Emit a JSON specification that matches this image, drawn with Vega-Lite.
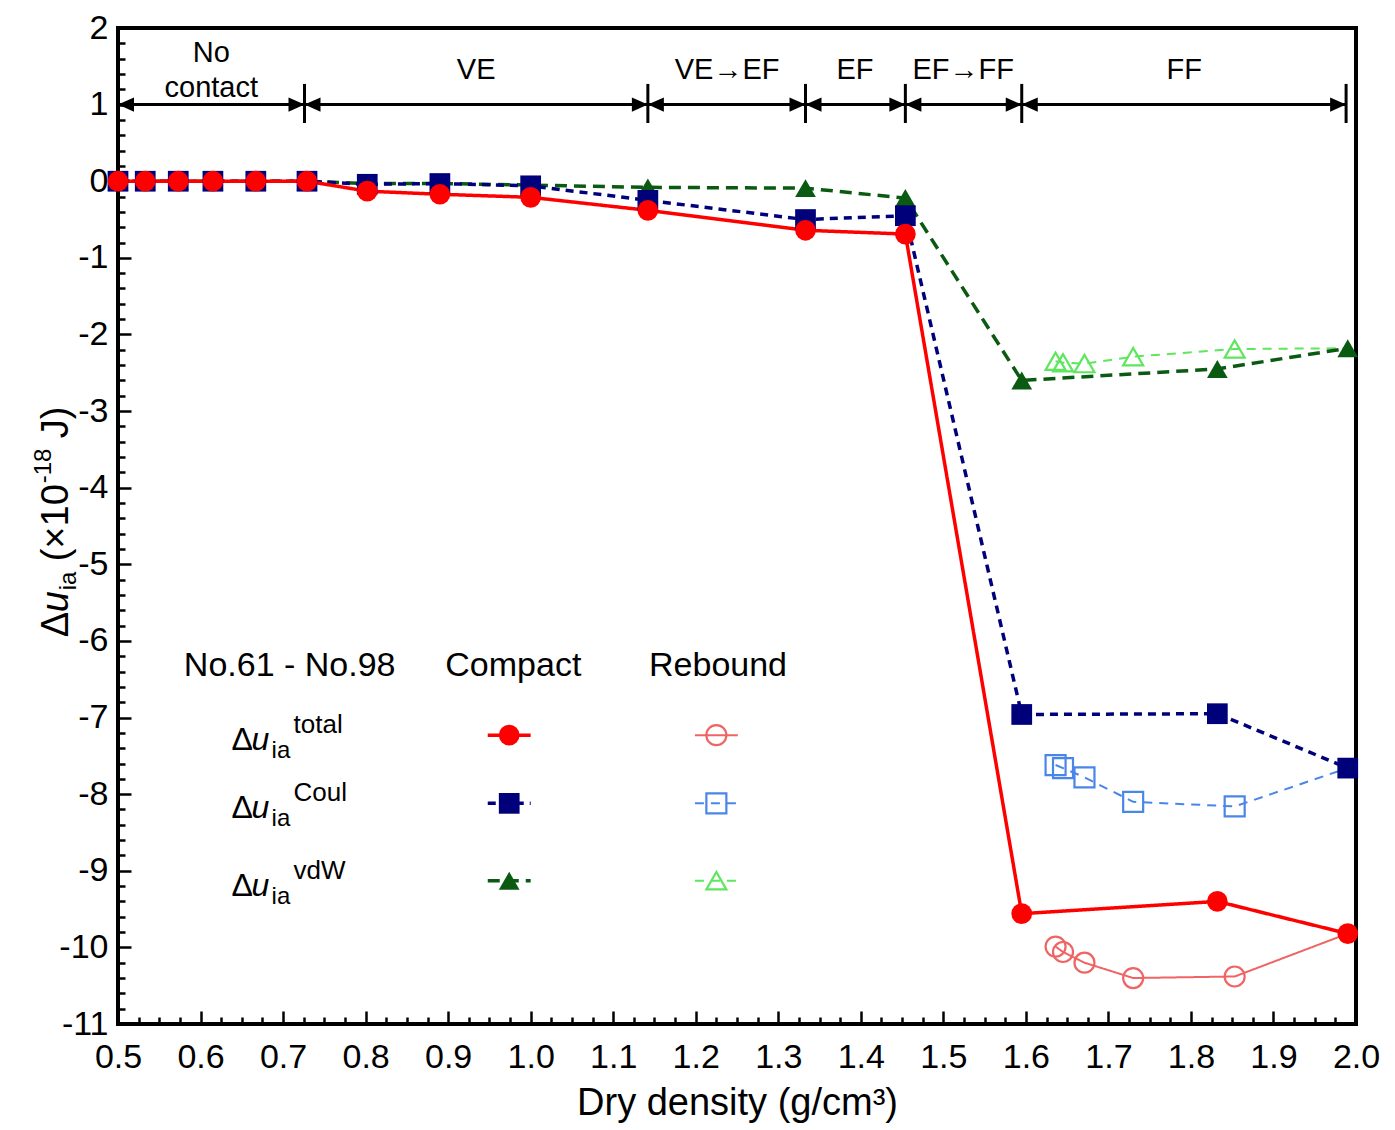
{
  "$schema": "https://vega.github.io/schema/vega-lite/v6.json",
  "width": 1238,
  "height": 996,
  "autosize": {"type": "none"},
  "padding": {"left": 118, "top": 28, "right": 39, "bottom": 106},
  "background": "white",
  "config": {
    "view": {"stroke": "black", "strokeWidth": 4},
    "font": "Liberation Sans",
    "text": {"font": "Liberation Sans", "color": "black"}
  },
  "datasets": {
    "pts": [
      {"s": "Cv", "x": 0.5, "y": 0}, {"s": "Cv", "x": 0.533, "y": 0}, {"s": "Cv", "x": 0.573, "y": 0}, {"s": "Cv", "x": 0.615, "y": 0}, {"s": "Cv", "x": 0.667, "y": 0}, {"s": "Cv", "x": 0.729, "y": 0},
      {"s": "Cv", "x": 0.802, "y": -0.03}, {"s": "Cv", "x": 0.89, "y": -0.03}, {"s": "Cv", "x": 1.0, "y": -0.05}, {"s": "Cv", "x": 1.142, "y": -0.08}, {"s": "Cv", "x": 1.333, "y": -0.09}, {"s": "Cv", "x": 1.454, "y": -0.22},
      {"s": "Cv", "x": 1.595, "y": -2.6}, {"s": "Cv", "x": 1.832, "y": -2.45}, {"s": "Cv", "x": 1.99, "y": -2.18},
      {"s": "Cc", "x": 0.5, "y": 0}, {"s": "Cc", "x": 0.533, "y": 0}, {"s": "Cc", "x": 0.573, "y": 0}, {"s": "Cc", "x": 0.615, "y": 0}, {"s": "Cc", "x": 0.667, "y": 0}, {"s": "Cc", "x": 0.729, "y": 0},
      {"s": "Cc", "x": 0.802, "y": -0.04}, {"s": "Cc", "x": 0.89, "y": -0.03}, {"s": "Cc", "x": 1.0, "y": -0.06}, {"s": "Cc", "x": 1.142, "y": -0.25}, {"s": "Cc", "x": 1.333, "y": -0.5}, {"s": "Cc", "x": 1.454, "y": -0.45},
      {"s": "Cc", "x": 1.595, "y": -6.96}, {"s": "Cc", "x": 1.832, "y": -6.95}, {"s": "Cc", "x": 1.99, "y": -7.66},
      {"s": "Ct", "x": 0.5, "y": 0}, {"s": "Ct", "x": 0.533, "y": 0}, {"s": "Ct", "x": 0.573, "y": 0}, {"s": "Ct", "x": 0.615, "y": 0}, {"s": "Ct", "x": 0.667, "y": 0}, {"s": "Ct", "x": 0.729, "y": 0},
      {"s": "Ct", "x": 0.802, "y": -0.13}, {"s": "Ct", "x": 0.89, "y": -0.17}, {"s": "Ct", "x": 1.0, "y": -0.21}, {"s": "Ct", "x": 1.142, "y": -0.38}, {"s": "Ct", "x": 1.333, "y": -0.64}, {"s": "Ct", "x": 1.454, "y": -0.69},
      {"s": "Ct", "x": 1.595, "y": -9.56}, {"s": "Ct", "x": 1.832, "y": -9.4}, {"s": "Ct", "x": 1.99, "y": -9.82},
      {"s": "Rv", "x": 1.636, "y": -2.35}, {"s": "Rv", "x": 1.645, "y": -2.37}, {"s": "Rv", "x": 1.671, "y": -2.38}, {"s": "Rv", "x": 1.73, "y": -2.29}, {"s": "Rv", "x": 1.853, "y": -2.19}, {"s": "Rv", "x": 1.99, "y": -2.18},
      {"s": "Rc", "x": 1.636, "y": -7.62}, {"s": "Rc", "x": 1.645, "y": -7.66}, {"s": "Rc", "x": 1.671, "y": -7.78}, {"s": "Rc", "x": 1.73, "y": -8.1}, {"s": "Rc", "x": 1.853, "y": -8.16}, {"s": "Rc", "x": 1.99, "y": -7.66},
      {"s": "Rt", "x": 1.636, "y": -9.99}, {"s": "Rt", "x": 1.645, "y": -10.06}, {"s": "Rt", "x": 1.671, "y": -10.2}, {"s": "Rt", "x": 1.73, "y": -10.4}, {"s": "Rt", "x": 1.853, "y": -10.38}, {"s": "Rt", "x": 1.99, "y": -9.82}
    ],
    "phase": [
      {"x": 0.5, "x2": 0.726, "y": 1},
      {"x": 0.726, "x2": 1.142, "y": 1},
      {"x": 1.142, "x2": 1.333, "y": 1},
      {"x": 1.333, "x2": 1.454, "y": 1},
      {"x": 1.454, "x2": 1.595, "y": 1},
      {"x": 1.595, "x2": 1.988, "y": 1}
    ],
    "phaseLabels": [
      {"x": 0.613, "y": 1.67, "t": ["No", "contact"]},
      {"x": 0.934, "y": 1.45, "t": "VE"},
      {"x": 1.238, "y": 1.45, "t": "VE→EF"},
      {"x": 1.393, "y": 1.45, "t": "EF"},
      {"x": 1.524, "y": 1.45, "t": "EF→FF"},
      {"x": 1.792, "y": 1.45, "t": "FF"}
    ],
    "legendHead": [
      {"x": 0.708, "y": -6.33, "t": "No.61 - No.98"},
      {"x": 0.979, "y": -6.33, "t": "Compact"},
      {"x": 1.227, "y": -6.33, "t": "Rebound"}
    ],
    "legendSamples": [
      {"s": "Ct", "x": 0.974, "xa": 0.948, "xb": 1.0, "y": -7.23},
      {"s": "Cc", "x": 0.974, "xa": 0.948, "xb": 1.0, "y": -8.12},
      {"s": "Cv", "x": 0.974, "xa": 0.948, "xb": 1.0, "y": -9.13},
      {"s": "Rt", "x": 1.225, "xa": 1.199, "xb": 1.251, "y": -7.23},
      {"s": "Rc", "x": 1.225, "xa": 1.199, "xb": 1.251, "y": -8.12},
      {"s": "Rv", "x": 1.225, "xa": 1.199, "xb": 1.251, "y": -9.13}
    ],
    "legendRows": [
      {"lab": "total", "x": 0.6376, "y": -7.23},
      {"lab": "Coul", "x": 0.6376, "y": -8.12},
      {"lab": "vdW", "x": 0.6376, "y": -9.13}
    ],
    "ytitle": [{"x": 0.4394, "y": -5.953}]
  },
  "encoding": {
    "x": {
      "field": "x", "type": "quantitative",
      "scale": {"domain": [0.5, 2.0], "nice": false, "zero": false},
      "axis": {
        "title": "Dry density (g/cm³)",
        "values": [0.5, 0.525, 0.55, 0.575, 0.6, 0.625, 0.65, 0.675, 0.7, 0.725, 0.75, 0.775, 0.8, 0.825, 0.85, 0.875, 0.9, 0.925, 0.95, 0.975, 1.0, 1.025, 1.05, 1.075, 1.1, 1.125, 1.15, 1.175, 1.2, 1.225, 1.25, 1.275, 1.3, 1.325, 1.35, 1.375, 1.4, 1.425, 1.45, 1.475, 1.5, 1.525, 1.55, 1.575, 1.6, 1.625, 1.65, 1.675, 1.7, 1.725, 1.75, 1.775, 1.8, 1.825, 1.85, 1.875, 1.9, 1.925, 1.95, 1.975, 2.0],
        "labelExpr": "abs(datum.value*10 - round(datum.value*10)) < 0.01 ? format(datum.value, '.1f') : ''",
        "tickSize": {"condition": {"test": "abs(datum.value*10 - round(datum.value*10)) < 0.01", "value": -13}, "value": -7},
        "tickWidth": 2.5, "tickColor": "black",
        "domain": false, "grid": false,
        "labelFont": "Liberation Sans", "labelFontSize": 34, "labelColor": "black",
        "labelPadding": 29, "labelFlush": false, "labelOverlap": false, "labelBound": false,
        "titleFont": "Liberation Sans", "titleFontSize": 38, "titleFontWeight": "normal", "titleColor": "black", "titlePadding": 4
      }
    },
    "y": {
      "field": "y", "type": "quantitative",
      "scale": {"domain": [-11, 2], "nice": false, "zero": false},
      "axis": {
        "title": null,
        "values": [-11, -10.8, -10.6, -10.4, -10.2, -10, -9.8, -9.6, -9.4, -9.2, -9, -8.8, -8.6, -8.4, -8.2, -8, -7.8, -7.6, -7.4, -7.2, -7, -6.8, -6.6, -6.4, -6.2, -6, -5.8, -5.6, -5.4, -5.2, -5, -4.8, -4.6, -4.4, -4.2, -4, -3.8, -3.6, -3.4, -3.2, -3, -2.8, -2.6, -2.4, -2.2, -2, -1.8, -1.6, -1.4, -1.2, -1, -0.8, -0.6, -0.4, -0.2, 0, 0.2, 0.4, 0.6, 0.8, 1, 1.2, 1.4, 1.6, 1.8, 2],
        "labelExpr": "abs(datum.value - round(datum.value)) < 0.01 ? '' + round(datum.value) : ''",
        "tickSize": {"condition": {"test": "abs(datum.value - round(datum.value)) < 0.01", "value": -13}, "value": -7},
        "tickWidth": 2.5, "tickColor": "black",
        "domain": false, "grid": false,
        "labelFont": "Liberation Sans", "labelFontSize": 34, "labelColor": "black",
        "labelPadding": 23, "labelFlush": false, "labelOverlap": false, "labelBound": false
      }
    }
  },
  "layer": [
    {
      "data": {"values": [{}]},
      "mark": {"type": "rule", "strokeDash": [3, 5], "strokeWidth": 3, "color": "black"},
      "encoding": {"x": {"datum": 0.5}, "x2": {"datum": 2.0}, "y": {"datum": 0}}
    },
    {
      "data": {"name": "pts"},
      "transform": [{"filter": "indexof(['Rv','Rc','Rt'], datum.s) >= 0"}],
      "mark": {"type": "line", "strokeWidth": 2},
      "encoding": {
        "color": {"field": "s", "type": "nominal", "legend": null, "scale": {"domain": ["Ct", "Cc", "Cv", "Rt", "Rc", "Rv"], "range": ["#ff0000", "#00007a", "#0b5a12", "#f06464", "#4a86e8", "#5ee65e"]}},
        "strokeDash": {"field": "s", "type": "nominal", "legend": null, "scale": {"domain": ["Ct", "Cc", "Cv", "Rt", "Rc", "Rv"], "range": [[1, 0], [8, 6], [12, 7], [1, 0], [9, 7], [9, 7]]}}
      }
    },
    {
      "data": {"name": "pts"},
      "transform": [{"filter": "indexof(['Rv','Rc','Rt'], datum.s) >= 0 && datum.x < 1.98"}],
      "mark": {"type": "point", "filled": false, "strokeWidth": 2.2, "size": 400, "opacity": 1},
      "encoding": {
        "color": {"field": "s", "type": "nominal", "legend": null, "scale": {"domain": ["Ct", "Cc", "Cv", "Rt", "Rc", "Rv"], "range": ["#ff0000", "#00007a", "#0b5a12", "#f06464", "#4a86e8", "#5ee65e"]}},
        "shape": {"field": "s", "type": "nominal", "legend": null, "scale": {"domain": ["Ct", "Cc", "Cv", "Rt", "Rc", "Rv"], "range": ["circle", "square", "triangle-up", "circle", "square", "triangle-up"]}}
      }
    },
    {
      "data": {"name": "pts"},
      "transform": [{"filter": "indexof(['Cv','Cc','Ct'], datum.s) >= 0"}],
      "mark": {"type": "line", "strokeWidth": 3.5},
      "encoding": {
        "color": {"field": "s", "type": "nominal", "legend": null, "scale": {"domain": ["Ct", "Cc", "Cv", "Rt", "Rc", "Rv"], "range": ["#ff0000", "#00007a", "#0b5a12", "#f06464", "#4a86e8", "#5ee65e"]}},
        "strokeDash": {"field": "s", "type": "nominal", "legend": null, "scale": {"domain": ["Ct", "Cc", "Cv", "Rt", "Rc", "Rv"], "range": [[1, 0], [8, 6], [12, 7], [1, 0], [9, 7], [9, 7]]}}
      }
    },
    {
      "data": {"name": "pts"},
      "transform": [{"filter": "indexof(['Cv','Cc','Ct'], datum.s) >= 0"}],
      "mark": {"type": "point", "filled": true, "size": 430, "opacity": 1},
      "encoding": {
        "color": {"field": "s", "type": "nominal", "legend": null, "scale": {"domain": ["Ct", "Cc", "Cv", "Rt", "Rc", "Rv"], "range": ["#ff0000", "#00007a", "#0b5a12", "#f06464", "#4a86e8", "#5ee65e"]}},
        "shape": {"field": "s", "type": "nominal", "legend": null, "scale": {"domain": ["Ct", "Cc", "Cv", "Rt", "Rc", "Rv"], "range": ["circle", "square", "triangle-up", "circle", "square", "triangle-up"]}}
      }
    },
    {
      "data": {"name": "phase"},
      "mark": {"type": "rule", "strokeWidth": 3, "color": "black"},
      "encoding": {"x2": {"field": "x2"}}
    },
    {
      "data": {"name": "phase"},
      "mark": {"type": "point", "shape": "M0,0L1,-0.45L1,0.45Z", "filled": true, "size": 1024, "color": "black", "opacity": 1}
    },
    {
      "data": {"name": "phase"},
      "mark": {"type": "point", "shape": "M0,0L-1,-0.45L-1,0.45Z", "filled": true, "size": 1024, "color": "black", "opacity": 1},
      "encoding": {"x": {"field": "x2", "type": "quantitative"}}
    },
    {
      "data": {"name": "phase"},
      "mark": {"type": "rule", "strokeWidth": 3, "color": "black"},
      "encoding": {"x": {"field": "x2", "type": "quantitative"}, "y": {"datum": 0.76}, "y2": {"datum": 1.27}}
    },
    {
      "data": {"name": "phaseLabels"},
      "mark": {"type": "text", "fontSize": 29, "align": "center", "baseline": "middle", "lineHeight": 35},
      "encoding": {"text": {"field": "t"}}
    },
    {
      "data": {"name": "legendHead"},
      "mark": {"type": "text", "fontSize": 34, "align": "center", "baseline": "middle"},
      "encoding": {"text": {"field": "t"}}
    },
    {
      "data": {"name": "legendSamples"},
      "transform": [{"filter": "indexof(['Cv','Cc','Ct'], datum.s) >= 0"}],
      "mark": {"type": "rule", "strokeWidth": 3.5},
      "encoding": {
        "x": {"field": "xa", "type": "quantitative"}, "x2": {"field": "xb"},
        "color": {"field": "s", "type": "nominal", "legend": null, "scale": {"domain": ["Ct", "Cc", "Cv", "Rt", "Rc", "Rv"], "range": ["#ff0000", "#00007a", "#0b5a12", "#f06464", "#4a86e8", "#5ee65e"]}},
        "strokeDash": {"field": "s", "type": "nominal", "legend": null, "scale": {"domain": ["Ct", "Cc", "Cv", "Rt", "Rc", "Rv"], "range": [[1, 0], [8, 6], [12, 7], [1, 0], [9, 7], [9, 7]]}}
      }
    },
    {
      "data": {"name": "legendSamples"},
      "transform": [{"filter": "indexof(['Rv','Rc','Rt'], datum.s) >= 0"}],
      "mark": {"type": "rule", "strokeWidth": 2},
      "encoding": {
        "x": {"field": "xa", "type": "quantitative"}, "x2": {"field": "xb"},
        "color": {"field": "s", "type": "nominal", "legend": null, "scale": {"domain": ["Ct", "Cc", "Cv", "Rt", "Rc", "Rv"], "range": ["#ff0000", "#00007a", "#0b5a12", "#f06464", "#4a86e8", "#5ee65e"]}},
        "strokeDash": {"field": "s", "type": "nominal", "legend": null, "scale": {"domain": ["Ct", "Cc", "Cv", "Rt", "Rc", "Rv"], "range": [[1, 0], [8, 6], [12, 7], [1, 0], [9, 7], [9, 7]]}}
      }
    },
    {
      "data": {"name": "legendSamples"},
      "transform": [{"filter": "indexof(['Cv','Cc','Ct'], datum.s) >= 0"}],
      "mark": {"type": "point", "filled": true, "size": 430, "opacity": 1},
      "encoding": {
        "color": {"field": "s", "type": "nominal", "legend": null, "scale": {"domain": ["Ct", "Cc", "Cv", "Rt", "Rc", "Rv"], "range": ["#ff0000", "#00007a", "#0b5a12", "#f06464", "#4a86e8", "#5ee65e"]}},
        "shape": {"field": "s", "type": "nominal", "legend": null, "scale": {"domain": ["Ct", "Cc", "Cv", "Rt", "Rc", "Rv"], "range": ["circle", "square", "triangle-up", "circle", "square", "triangle-up"]}}
      }
    },
    {
      "data": {"name": "legendSamples"},
      "transform": [{"filter": "indexof(['Rv','Rc','Rt'], datum.s) >= 0"}],
      "mark": {"type": "point", "filled": false, "strokeWidth": 2.2, "size": 400, "opacity": 1},
      "encoding": {
        "color": {"field": "s", "type": "nominal", "legend": null, "scale": {"domain": ["Ct", "Cc", "Cv", "Rt", "Rc", "Rv"], "range": ["#ff0000", "#00007a", "#0b5a12", "#f06464", "#4a86e8", "#5ee65e"]}},
        "shape": {"field": "s", "type": "nominal", "legend": null, "scale": {"domain": ["Ct", "Cc", "Cv", "Rt", "Rc", "Rv"], "range": ["circle", "square", "triangle-up", "circle", "square", "triangle-up"]}}
      }
    },
    {
      "data": {"name": "legendRows"},
      "mark": {"type": "text", "text": "Δ", "fontSize": 32, "align": "left", "baseline": "alphabetic", "dy": 15}
    },
    {
      "data": {"name": "legendRows"},
      "mark": {"type": "text", "text": "u", "fontStyle": "italic", "fontSize": 32, "align": "left", "baseline": "alphabetic", "dx": 20, "dy": 15}
    },
    {
      "data": {"name": "legendRows"},
      "mark": {"type": "text", "text": "ia", "fontSize": 24, "align": "left", "baseline": "alphabetic", "dx": 40, "dy": 23}
    },
    {
      "data": {"name": "legendRows"},
      "mark": {"type": "text", "fontSize": 26, "align": "left", "baseline": "alphabetic", "dx": 62, "dy": -2},
      "encoding": {"text": {"field": "lab"}}
    },
    {
      "data": {"name": "ytitle"},
      "mark": {"type": "text", "text": "Δ", "fontSize": 38, "angle": 270, "align": "left", "baseline": "alphabetic", "dx": 0}
    },
    {
      "data": {"name": "ytitle"},
      "mark": {"type": "text", "text": "u", "fontStyle": "italic", "fontSize": 38, "angle": 270, "align": "left", "baseline": "alphabetic", "dx": 25}
    },
    {
      "data": {"name": "ytitle"},
      "mark": {"type": "text", "text": "ia", "fontSize": 24, "angle": 270, "align": "left", "baseline": "alphabetic", "dx": 47, "dy": 8}
    },
    {
      "data": {"name": "ytitle"},
      "mark": {"type": "text", "text": "(×10", "fontSize": 38, "angle": 270, "align": "left", "baseline": "alphabetic", "dx": 76}
    },
    {
      "data": {"name": "ytitle"},
      "mark": {"type": "text", "text": "-18", "fontSize": 24, "angle": 270, "align": "left", "baseline": "alphabetic", "dx": 154, "dy": -17}
    },
    {
      "data": {"name": "ytitle"},
      "mark": {"type": "text", "text": "J)", "fontSize": 38, "angle": 270, "align": "left", "baseline": "alphabetic", "dx": 199}
    }
  ]
}
